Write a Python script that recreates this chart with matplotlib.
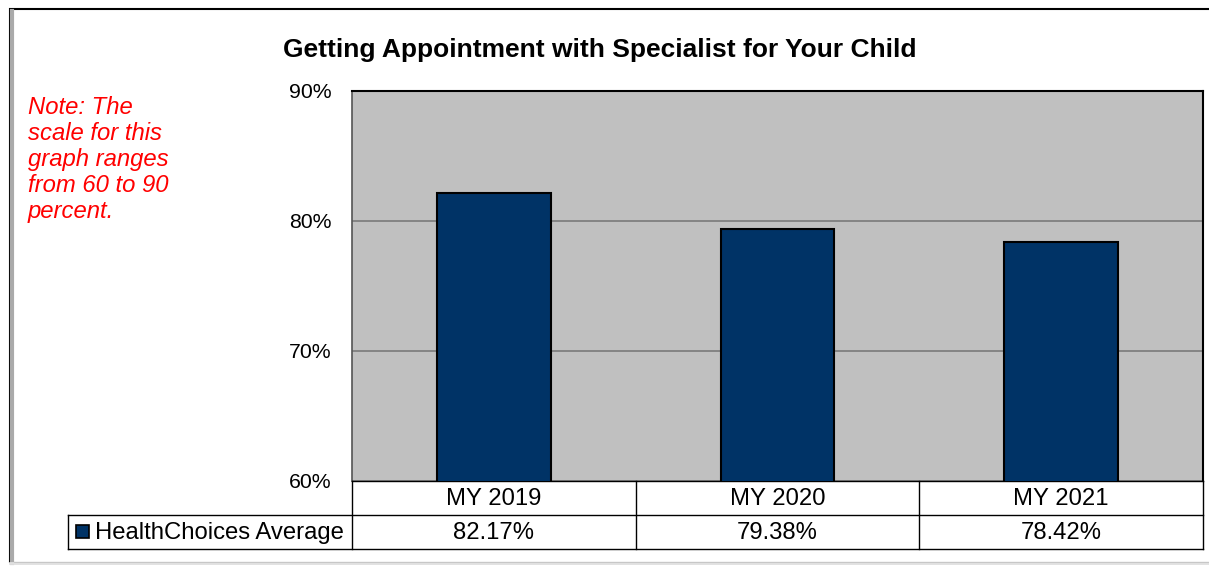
import matplotlib
matplotlib.use("Agg")
import matplotlib.pyplot as plt
from matplotlib.lines import Line2D
from matplotlib.patches import Rectangle

categories = ["MY 2019", "MY 2020", "MY 2021"]
values = [82.17, 79.38, 78.42]
series_name = "HealthChoices Average"
yticks = [60, 70, 80, 90]
title = "Getting Appointment with Specialist for Your Child"
note = "Note: The\nscale for this\ngraph ranges\nfrom 60 to 90\npercent."

plt.rcParams['font.family'] = ['Liberation Sans', 'DejaVu Sans']

W, H = 1209, 566
fig = plt.figure(figsize=(W / 100, H / 100), dpi=100)

def fx(px):
    return px / W

def fy(py):
    return 1 - py / H

# plot area
L, R, T, B = 352, 1203, 91, 481
ax = fig.add_axes([fx(L), fy(B), fx(R) - fx(L), fy(T) - fy(B)])
ax.set_facecolor('#C0C0C0')
x = list(range(len(categories)))
ax.bar(x, values, width=0.4, color='#003366', edgecolor='black', linewidth=1.5, zorder=3)
ax.set_xlim(-0.5, len(categories) - 0.5)
ax.set_ylim(60, 90)
ax.set_yticks(yticks)
ax.set_yticklabels([f"{t}%" for t in yticks], fontsize=15.3)
ax.tick_params(axis='y', length=0, pad=14.5)
ax.set_xticks([])
ax.grid(axis='y', color='#7A7A7A', linewidth=1.2, zorder=1)
for s in ['top', 'right']:
    ax.spines[s].set_color('black')
    ax.spines[s].set_linewidth(1.5)
ax.spines['left'].set_color('#555555')
ax.spines['left'].set_linewidth(1.2)
ax.spines['bottom'].set_color('black')
ax.spines['bottom'].set_linewidth(1.0)

# title
fig.text(fx(600), fy(50), title, ha='center', va='center', fontsize=19, fontweight='bold')

# note
fig.text(fx(28), fy(96), note, ha='left', va='top', fontsize=17.2, style='italic',
         color='#FF0000', linespacing=1.16)

# data table
row1, row2, row3 = 481, 515, 549
colw = (R - L) / len(categories)
lc = 'black'
lw = 1.0
def hline(y, x0, x1):
    fig.add_artist(Line2D([fx(x0), fx(x1)], [fy(y), fy(y)], color=lc, lw=lw))
def vline(xp, y0, y1):
    fig.add_artist(Line2D([fx(xp), fx(xp)], [fy(y0), fy(y1)], color=lc, lw=lw))

hline(row2, 68, R)
hline(row3, 68, R)
vline(68, row2, row3)
for i in range(len(categories) + 1):
    vline(L + i * colw, row1, row3)
for i, (c, v) in enumerate(zip(categories, values)):
    cx = L + (i + 0.5) * colw
    fig.text(fx(cx), fy((row1 + row2) / 2 + 1), c, ha='center', va='center', fontsize=17.2)
    fig.text(fx(cx), fy((row2 + row3) / 2 + 1), f"{v:.2f}%", ha='center', va='center', fontsize=17.2)

# legend key
fig.add_artist(Rectangle((fx(76), fy(538)), fx(13), fy(525) - fy(538), facecolor='#003366',
                         edgecolor='black', lw=1.2))
fig.text(fx(95), fy((row2 + row3) / 2 + 1), series_name, ha='left', va='center', fontsize=17.2)

# figure border
fig.add_artist(Rectangle((fx(10), fy(563)), fx(W + 20), fy(9) - fy(563), fill=False,
                         edgecolor='black', lw=1.5))
fig.add_artist(Line2D([fx(12), fx(12)], [fy(11), fy(563)], color='#AAAAAA', lw=3))
fig.add_artist(Line2D([fx(10), fx(W)], [fy(563), fy(563)], color='#E0E0E0', lw=2))

fig.savefig('out.png', dpi=100)
